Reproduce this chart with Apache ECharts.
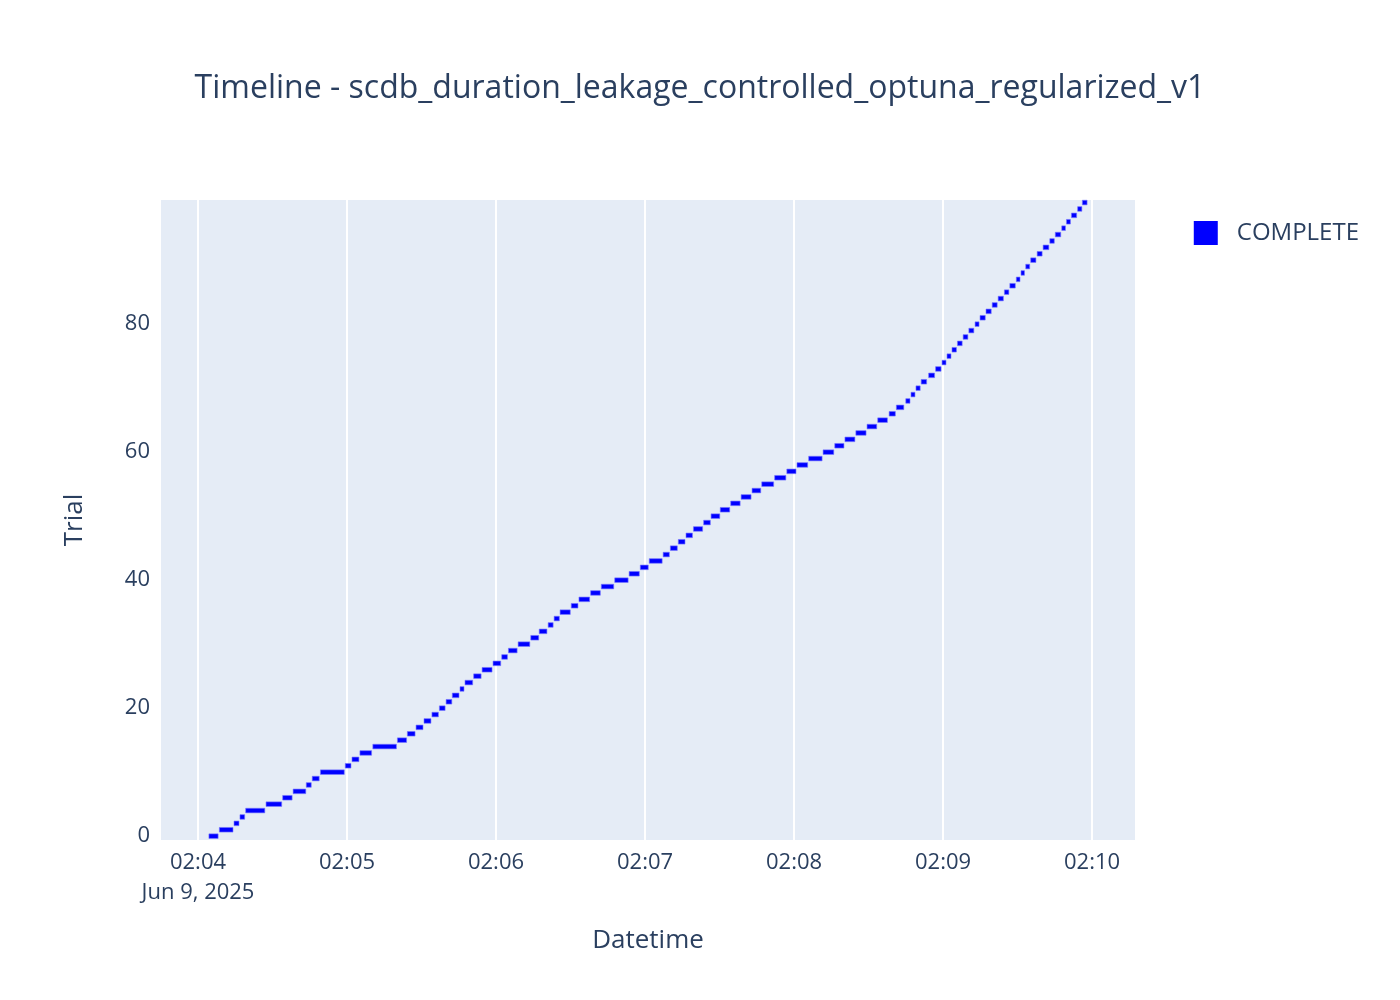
<!DOCTYPE html>
<html>
<head>
<meta charset="utf-8">
<script src="https://cdn.jsdelivr.net/npm/echarts@6/dist/echarts.min.js"></script>
<style>html,body{margin:0;padding:0;background:#fff}#chart{width:1400px;height:1000px}</style>
</head>
<body>
<div id="chart"></div>
<script>
// seconds after 02:04:00 on Jun 9, 2025 (UTC)
let trialStart=[4.4,8.6,14.5,16.9,19.2,27.4,34.1,38.3,43.6,46.0,49.3,59.3,62.0,65.2,70.4,80.3,84.3,87.8,91.0,94.2,
	97.2,99.9,102.4,105.5,107.5,111.0,114.4,118.8,122.3,125.0,128.9,134.0,137.4,141.0,143.4,145.8,150.3,153.4,158.1,162.4,
	167.8,173.6,178.1,181.7,187.3,190.2,193.4,196.5,199.5,203.6,206.6,210.3,214.5,218.7,223.1,227.0,232.2,237.1,241.2,245.9,
	251.7,256.4,260.5,264.9,269.4,273.7,278.3,281.2,285.0,287.1,289.1,291.2,294.2,297.0,299.6,301.6,303.6,305.8,308.1,310.4,
	312.9,314.9,317.3,319.8,322.2,324.7,326.9,329.5,331.4,333.3,335.3,337.9,340.3,343.0,345.2,347.8,349.7,351.7,354.2,356.1];
let trialEnd=[8.1,14.1,16.5,18.8,26.9,33.7,37.9,43.4,45.6,48.8,58.9,61.6,64.8,69.9,79.9,84.0,87.4,90.6,93.8,96.8,
	99.5,102.2,105.1,107.1,110.6,114.0,118.4,121.9,124.6,128.5,133.6,137.2,140.5,143.0,145.5,149.9,153.0,157.7,162.0,167.4,
	173.2,177.7,181.3,186.9,189.8,193.0,196.1,199.1,203.2,206.3,210.1,214.1,218.3,222.7,226.6,231.8,236.7,240.8,245.5,251.3,
	256.0,260.1,264.5,269.0,273.3,277.6,280.8,284.2,286.7,288.7,290.8,293.4,296.6,299.2,301.2,303.2,305.4,307.7,310.0,312.4,
	314.5,317.0,319.4,321.8,324.3,326.5,329.1,331.0,332.8,334.9,337.4,339.9,342.6,344.8,347.4,349.3,351.3,353.8,355.9,358.0];
let yTicks=[0,20,40,60,80];

let base=Date.UTC(2025,5,9,2,4,0);
let data=trialStart.map(function(s,i){return [base+s*1000,base+trialEnd[i]*1000,i];});

let chart=echarts.init(document.getElementById('chart'));
chart.setOption({
	useUTC:true,
	animation:false,
	textStyle:{fontFamily:'"Open Sans", "Noto Sans", sans-serif',color:'#2a3f5f'},
	title:{
		text:'Timeline - scdb_duration_leakage_controlled_optuna_regularized_v1',
		left:'center',top:68,
		textStyle:{fontSize:32,fontWeight:'normal',color:'#2a3f5f',fontFamily:'"Open Sans", sans-serif'},
	},
	legend:{
		right:36,top:216,orient:'vertical',itemWidth:24,itemHeight:24,itemGap:10,
		textStyle:{fontSize:24,color:'#2a3f5f',padding:[0,0,0,14]},
		data:[{name:'COMPLETE',icon:'rect',itemStyle:{color:'#0000ff'}}],
	},
	grid:{left:160,right:264,top:200,bottom:160,show:true,backgroundColor:'#e5ecf6',borderWidth:0},
	xAxis:{
		type:'time',
		min:base-15300,max:base+377700,
		minInterval:60000,maxInterval:60000,
		name:'Datetime',nameLocation:'middle',nameGap:88,
		nameTextStyle:{fontSize:26,color:'#2a3f5f'},
		axisLine:{show:false},axisTick:{show:false},
		splitLine:{show:true,lineStyle:{color:'#ffffff',width:2}},
		axisLabel:{
			fontSize:22,color:'#2a3f5f',margin:8,lineHeight:30,
			formatter:function(v){
				let d=new Date(v);
				let t=String(d.getUTCHours()).padStart(2,'0')+':'+String(d.getUTCMinutes()).padStart(2,'0');
				return v===base?t+'\nJun 9, 2025':t;
			},
		},
	},
	yAxis:{
		type:'value',min:-0.6,max:99.4,
		name:'Trial',nameLocation:'middle',nameGap:72,
		nameTextStyle:{fontSize:26,color:'#2a3f5f'},
		axisLine:{show:false},axisTick:{show:false},splitLine:{show:false},
		axisLabel:{fontSize:22,color:'#2a3f5f',margin:10,customValues:yTicks},
	},
	series:[{
		name:'COMPLETE',
		type:'custom',
		itemStyle:{color:'#0000ff'},
		encode:{x:[0,1],y:2},
		renderItem:function(params,api){
			let p0=api.coord([api.value(0),api.value(2)]);
			let p1=api.coord([api.value(1),api.value(2)]);
			let h=4.6;
			return {
				type:'rect',
				shape:{x:p0[0],y:p0[1]-h/2,width:Math.max(p1[0]-p0[0],1),height:h},
				style:{fill:'#0000ff',stroke:'rgba(120,120,255,0.6)',lineWidth:1},
			};
		},
		data:data,
	}],
});
</script>
</body>
</html>
